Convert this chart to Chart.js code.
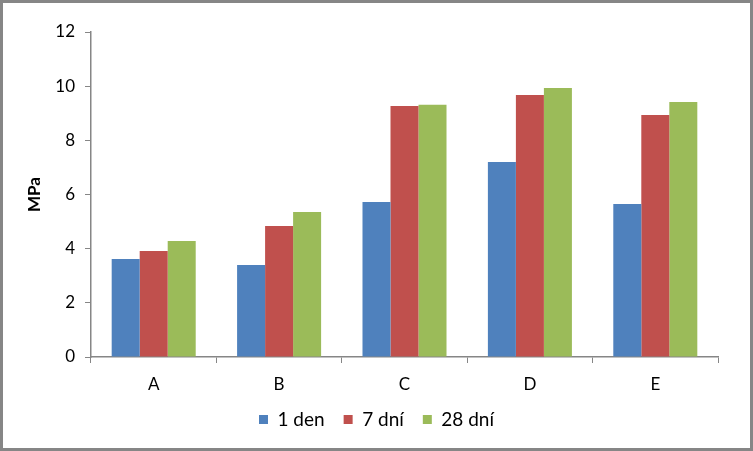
<!DOCTYPE html>
<html>
<head>
<meta charset="utf-8">
<script src="https://cdn.jsdelivr.net/npm/chart.js@4"></script>
<style>
  body { margin: 0; background: #fff; }
  #wrap { position: relative; width: 753px; height: 451px; }
  #frame { position: absolute; left: 0; top: 0; width: 753px; height: 451px;
           box-sizing: border-box; border: 3px solid #868686; pointer-events: none; }
</style>
</head>
<body>
<div id="wrap">
  <canvas id="pevnostChart" width="753" height="451"></canvas>
  <div id="frame"></div>
</div>
<script>
// kategorie a hodnoty (MPa)
const kategorie = ['A', 'B', 'C', 'D', 'E'];
const den1 = [3.62, 3.40, 5.72, 7.20, 5.65];
const dni7 = [3.91, 4.84, 9.27, 9.67, 8.94];
const dni28 = [4.28, 5.35, 9.31, 9.93, 9.42];
const yTicks = [0, 2, 4, 6, 8, 10, 12];

const pismo = 'Lato, "Open Sans", sans-serif';
const seda = '#868686';

const ctx = document.getElementById('pevnostChart').getContext('2d');
const pevnostChart = new Chart(ctx, {
    type: 'bar',
    data: {
        labels: kategorie,
        datasets: [
            { label: '1 den', data: den1, backgroundColor: '#4f81bd' },
            { label: '7 dní', data: dni7, backgroundColor: '#c0504d' },
            { label: '28 dní', data: dni28, backgroundColor: '#9bbb59' }
        ]
    },
    options: {
        responsive: false,
        animation: false,
        devicePixelRatio: 1,
        categoryPercentage: 0.67,
        barPercentage: 1.0,
        layout: { padding: { top: 32, right: 35, bottom: 12, left: 35 } },
        plugins: {
            tooltip: { enabled: false },
            legend: {
                position: 'bottom',
                labels: {
                    boxWidth: 9,
                    boxHeight: 9,
                    padding: 19,
                    color: '#000',
                    font: { family: pismo, size: 19 }
                }
            }
        },
        scales: {
            x: {
                grid: { drawOnChartArea: false, drawTicks: true, tickLength: 6, color: seda },
                border: { color: seda, width: 1.5 },
                ticks: { color: '#000', font: { family: pismo, size: 17 }, padding: 11 },
                afterFit: function(scale) { scale.height = 34; }
            },
            y: {
                min: 0,
                max: 12,
                afterBuildTicks: function(scale) {
                    scale.ticks = yTicks.map(v => ({ value: v }));
                },
                grid: { drawOnChartArea: false, drawTicks: true, tickLength: 6, color: seda },
                border: { color: seda, width: 1.5 },
                ticks: { color: '#000', font: { family: pismo, size: 17 }, padding: 10 },
                title: {
                    display: true,
                    text: 'MPa',
                    color: '#000',
                    padding: { top: -11, bottom: 0 },
                    font: { family: pismo, size: 17, weight: 'bold' }
                },
                afterFit: function(scale) { scale.width = 56; }
            }
        }
    }
});
</script>
</body>
</html>
